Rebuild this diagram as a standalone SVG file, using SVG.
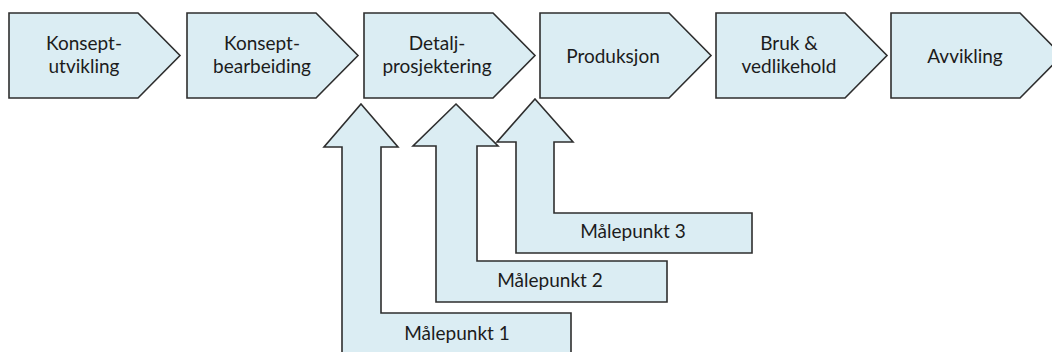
<svg xmlns="http://www.w3.org/2000/svg" width="1052" height="352" viewBox="0 0 1052 352">
  <style>
    .shape { fill: #dbedf3; stroke: #2e2e2e; stroke-width: 1.6; stroke-linejoin: miter; }
    .label { font-family: Lato, "Liberation Sans", sans-serif; font-size: 19px; fill: #1c1c1c; text-anchor: middle; }
  </style>
  <defs>
    <!-- chevron step: body 129 wide, point 42 deep, 85 tall -->
    <polygon id="chevron" points="0,13 129,13 171,55.5 129,98 0,98"/>
  </defs>
  <rect width="1052" height="352" fill="#ffffff"/>

  <g id="step-konseptutvikling">
    <use href="#chevron" x="9" class="shape"/>
    <text class="label" x="84" y="50">Konsept-</text>
    <text class="label" x="84" y="73">utvikling</text>
  </g>
  <g id="step-konseptbearbeiding">
    <use href="#chevron" x="187" class="shape"/>
    <text class="label" x="262" y="50">Konsept-</text>
    <text class="label" x="262" y="73">bearbeiding</text>
  </g>
  <g id="step-detaljprosjektering">
    <use href="#chevron" x="364" class="shape"/>
    <text class="label" x="437" y="50">Detalj-</text>
    <text class="label" x="437" y="73">prosjektering</text>
  </g>
  <g id="step-produksjon">
    <use href="#chevron" x="540" class="shape"/>
    <text class="label" x="613" y="62.5">Produksjon</text>
  </g>
  <g id="step-bruk">
    <use href="#chevron" x="716" class="shape"/>
    <text class="label" x="789" y="50">Bruk &amp;</text>
    <text class="label" x="789" y="73">vedlikehold</text>
  </g>
  <g id="step-avvikling">
    <use href="#chevron" x="891" class="shape"/>
    <text class="label" x="965" y="62.5">Avvikling</text>
  </g>

  <!-- bent up-arrows pointing at the phases they measure -->
  <g id="connectors">
    <g id="malepunkt-1">
      <polygon class="shape" points="361,104 398,147 381,147 381,313 571,313 571,358 342,358 342,147 324,147"/>
      <text class="label" x="457" y="340">Målepunkt 1</text>
    </g>
    <g id="malepunkt-2">
      <polygon class="shape" points="456,104 498,146 477,146 477,261 667,261 667,302 436,302 436,146 413,146"/>
      <text class="label" x="550" y="287">Målepunkt 2</text>
    </g>
    <g id="malepunkt-3">
      <polygon class="shape" points="535,99 573,142 554,142 554,213 752,213 752,253 516,253 516,142 497,142"/>
      <text class="label" x="633" y="238">Målepunkt 3</text>
    </g>
  </g>
</svg>
